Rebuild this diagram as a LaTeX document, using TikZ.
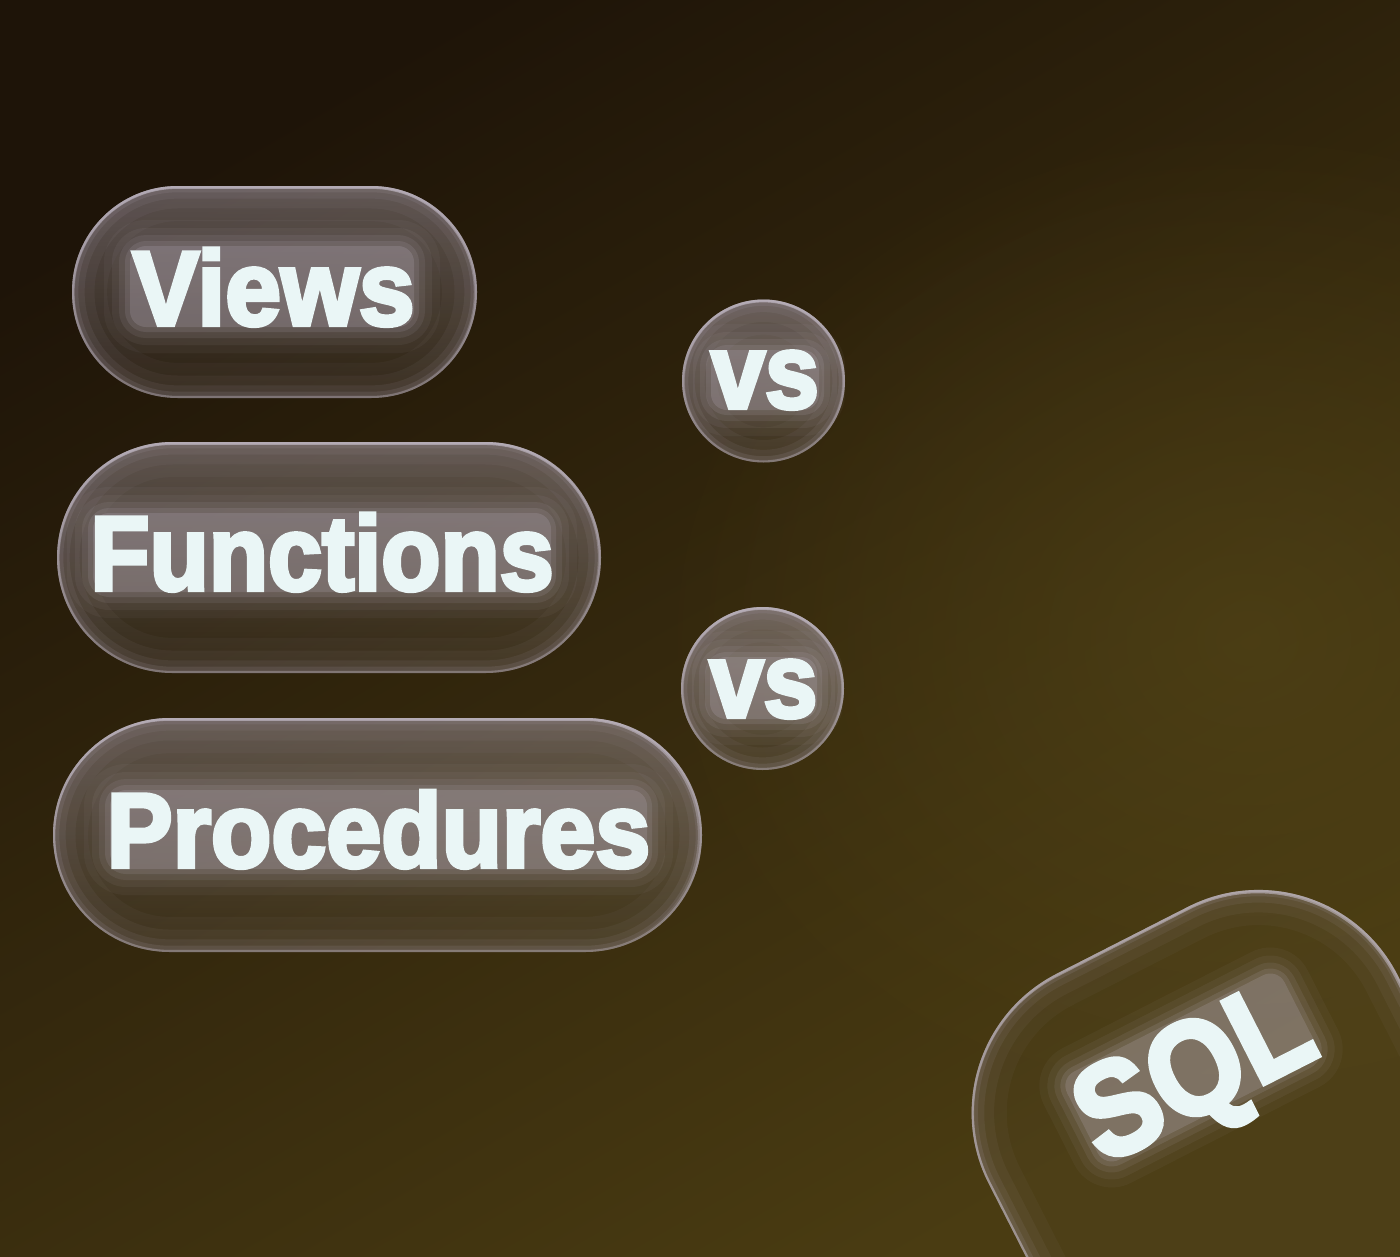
\documentclass[tikz,border=0pt]{standalone}
\usepackage{fontspec}
\setmainfont{Liberation Sans}[BoldFeatures={FakeBold=4}]
\usetikzlibrary{fadings}

\definecolor{bgtl}{RGB}{30,20,8}
\definecolor{bgbr}{RGB}{74,60,18}
\definecolor{glowbg}{RGB}{84,70,24}
\definecolor{rimlight}{RGB}{204,196,210}
\definecolor{rimc}{RGB}{168,156,170}
\definecolor{pilltop}{RGB}{160,150,158}
\definecolor{txtc}{RGB}{234,246,246}
\definecolor{haloc}{RGB}{190,180,194}

\tikzfading[name=softglow, inner color=transparent!0, outer color=transparent!100]
\tikzfading[name=topfade, top color=transparent!0, middle color=transparent!100, bottom color=transparent!100]

% glassy pill / bubble: #1 = shape options, #2 = path, #3 = top highlight opacity, #4 = body opacity
\newcommand{\glass}[4]{%
  \fill[#1, fill=pilltop, fill opacity=#4] #2;
  \begin{scope}
    \clip[#1] #2;
    \fill[#1, fill=pilltop, fill opacity=#3, path fading=topfade] #2;
    \draw[#1, draw=rimc, line width=100pt, draw opacity=0.05] #2;
    \draw[#1, draw=rimc, line width=64pt, draw opacity=0.07] #2;
    \draw[#1, draw=rimc, line width=36pt, draw opacity=0.10] #2;
    \draw[#1, draw=rimc, line width=18pt, draw opacity=0.15] #2;
    \draw[#1, draw=rimlight, line width=6pt, draw opacity=0.35] #2;
    \draw[#1, draw=rimlight, line width=8pt, draw opacity=0.6, path fading=topfade] #2;
  \end{scope}}

% soft halo behind a text: x1, top, x2, bottom (image-like, y down)
\newcommand{\halo}[4]{%
  \foreach \e/\o in {28/0.05, 20/0.07, 13/0.10, 7/0.14, 2/0.2}{%
    \fill[haloc, fill opacity=\o, rounded corners=(\e+14)*1.4226pt]
      (#1-\e,-#2+\e) rectangle (#3+\e,-#4-\e);
  }}

\tikzset{
  txt/.style={text=txtc, inner sep=0pt, anchor=base,
    font=\bfseries\fontsize{150pt}{150pt}\selectfont},
  sqltxt/.style={text=txtc, inner sep=0pt, anchor=base,
    font=\bfseries\fontsize{189pt}{189pt}\selectfont}
}

\begin{document}
\begin{tikzpicture}[x=0.05cm, y=0.05cm]
\useasboundingbox (0,0) rectangle (1400,-1257);
\clip (0,0) rectangle (1400,-1257);

% background
\shade[shading=axis, top color=bgtl, bottom color=bgbr, shading angle=30]
  (0,0) rectangle (1400,-1257);
\fill[glowbg, path fading=softglow, fill opacity=0.6]
  (1250,-640) ellipse [x radius=600, y radius=520];

% pills
\glass{rounded corners=150pt}{(72,-186) rectangle (477,-398)}{0.4}{0.06}
\glass{rounded corners=164pt}{(57,-442) rectangle (601,-673)}{0.4}{0.06}
\glass{rounded corners=166pt}{(53,-718) rectangle (702,-952)}{0.4}{0.06}
\glass{sharp corners}{(763.5,-381) circle [radius=81.5]}{0.45}{0.06}
\glass{sharp corners}{(762.5,-688.5) circle [radius=81.5]}{0.45}{0.06}

% halos
\halo{132}{248}{412}{325}
\halo{95}{515}{549}{590}
\halo{112}{792}{645}{867}
\halo{713}{352}{817}{408}
\halo{712}{659}{815}{717}

% texts
\node[txt] (views) at (273.5,-325) {\scalebox{0.95}[1]{Views}};
\node[txt] (funcs) at (322,-590) {\scalebox{0.92}[1]{Functions}};
\node[txt] (procs) at (378.5,-867) {\scalebox{0.937}[1]{Procedures}};
\node[txt] (vsa) at (765,-408) {\scalebox{0.92}[1]{vs}};
\node[txt] (vsb) at (763.5,-717) {\scalebox{0.92}[1]{vs}};

% SQL pill, tilted
\begin{scope}[shift={(917.8,-1044.5)}, rotate=27]
  \glass{rounded corners=222pt}{(0,0) rectangle (459,-600)}{0.0}{0.04}
  \halo{113}{97}{353}{192}
  \node[sqltxt, rotate=27] (sql) at (233,-192) {\scalebox{0.9}[1]{SQL}};
\end{scope}
\end{tikzpicture}
\end{document}
